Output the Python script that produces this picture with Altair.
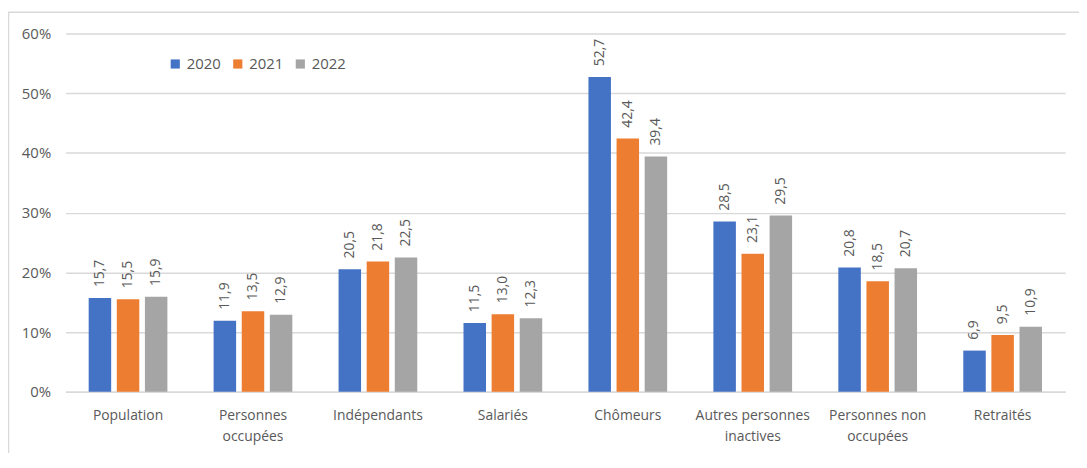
import altair as alt
import pandas as pd

categories = ["Population", "Personnes\noccupées", "Indépendants", "Salariés", "Chômeurs",
              "Autres personnes\ninactives", "Personnes non\noccupées", "Retraités"]
years = ["2020", "2021", "2022"]
v2020 = [15.7, 11.9, 20.5, 11.5, 52.7, 28.5, 20.8, 6.9]
v2021 = [15.5, 13.5, 21.8, 13.0, 42.4, 23.1, 18.5, 9.5]
v2022 = [15.9, 12.9, 22.5, 12.3, 39.4, 29.5, 20.7, 10.9]
colors = ["#4472C4", "#ED7D31", "#A5A5A5"]

rows = []
for y, vals in zip(years, [v2020, v2021, v2022]):
    for c, v in zip(categories, vals):
        rows.append({"cat": c, "year": y, "value": v})
df = pd.DataFrame(rows)

FONT = "Open Sans"
TXT = "#595959"

base = alt.Chart(df).encode(
    x=alt.X("cat:N", sort=categories, title=None,
            scale=alt.Scale(paddingInner=0.37, paddingOuter=0.185),
            axis=alt.Axis(labelAngle=0, ticks=False, domainColor="#D9D9D9", domainWidth=1.5,
                          labelFontSize=14, labelColor=TXT, labelFont=FONT, labelPadding=17,
                          labelLineHeight=21, labelBaseline="top",
                          labelExpr="split(datum.label, '\\n')")),
    xOffset=alt.XOffset("year:N", sort=years,
                        scale=alt.Scale(paddingInner=0.2, paddingOuter=0)),
    y=alt.Y("value:Q", title=None,
            scale=alt.Scale(domain=[0, 60], nice=False),
            axis=alt.Axis(values=[0, 10, 20, 30, 40, 50, 60], labelExpr="datum.value + '%'",
                          ticks=False, domain=False, gridColor="#D9D9D9", gridWidth=1.5,
                          labelFontSize=15, labelColor=TXT, labelFont=FONT, labelPadding=15)),
)

bars = base.mark_bar().encode(
    color=alt.Color("year:N", sort=years, scale=alt.Scale(domain=years, range=colors),
                    legend=alt.Legend(title=None, orient="none", legendX=103, legendY=23,
                                      direction="horizontal", symbolType="square",
                                      symbolSize=85, symbolStrokeWidth=0,
                                      labelFontSize=15, labelColor=TXT, labelFont=FONT,
                                      labelOffset=4, columnPadding=9))
)

labels = base.mark_text(angle=270, align="left", baseline="middle", dx=11,
                        fontSize=14, font=FONT, color=TXT).transform_calculate(
    label="replace(format(datum.value, '.1f'), '.', ',')"
).encode(text="label:N")

frame = alt.Chart(pd.DataFrame({"a": [0]})).mark_rect(
    fill=None, stroke="#D9D9D9", strokeWidth=1.5
).encode(x=alt.value(-57.5), x2=alt.value(1200), y=alt.value(-21.5), y2=alt.value(600))

chart = alt.layer(frame, bars, labels).properties(
    width=1007, height=361,
    autosize=alt.AutoSizeParams(type="none"),
    padding={"left": 58, "top": 24, "right": 14, "bottom": 60},
).configure_view(stroke=None)

chart.save("out.html", embed_options={"renderer": "svg", "actions": False})
